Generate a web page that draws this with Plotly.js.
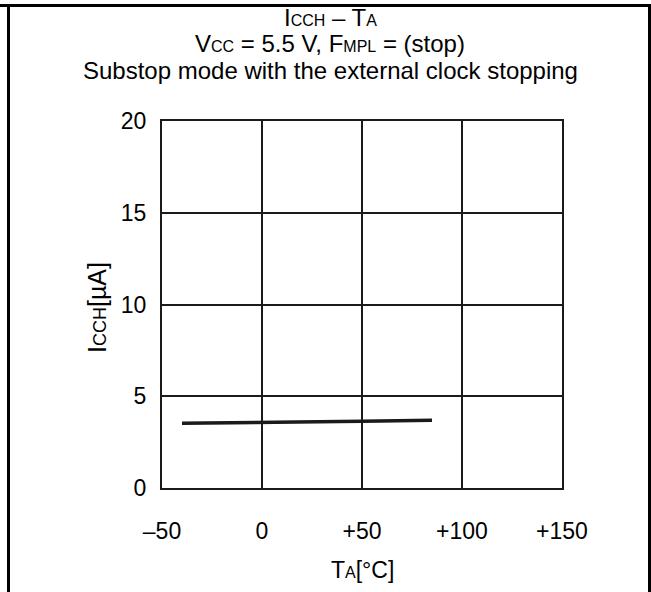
<!DOCTYPE html>
<html>
<head>
<meta charset="utf-8">
<script src="https://cdn.plot.ly/plotly-3.0.1.min.js"></script>
<style>
html,body{margin:0;padding:0;background:#fff;}
#wrap{position:relative;width:651px;height:592px;overflow:hidden;}
#chart{position:absolute;left:0;top:0;width:651px;height:592px;}
.ln{position:absolute;background:#000;z-index:5;}
</style>
</head>
<body>
<div id="wrap">
<div id="chart"></div>
<div class="ln" style="left:0;top:4px;width:651px;height:3px;"></div>
<div class="ln" style="left:7px;top:4px;width:3px;height:588px;"></div>
<div class="ln" style="left:648px;top:4px;width:3px;height:588px;"></div>
</div>
<script>
// Data
const tempC = [-40, 0, 50, 85];
const iccH = [3.53, 3.6, 3.64, 3.69];
const xTickVals = [-50, 0, 50, 100, 150];
const xTickText = ['\u201350', '0', '+50', '+100', '+150'];
const yTickVals = [0, 5, 10, 15, 20];
const yTickText = ['0', '5', '10', '15', '20'];

const W = 651, H = 592;
const M = {l: 162, r: 89, t: 121, b: 104};
const plotH = H - M.t - M.b;
const plotW = W - M.l - M.r;
function py(pix) { return (H - M.b - pix) / plotH; }
function px(pix) { return (pix - M.l) / plotW; }

const FONT = '"Liberation Sans", Arial, sans-serif';
const fs = 24;
const tfs = 23;
const sub = (s, n) => '<span style="font-size:' + (n || 16) + 'px">' + s + '</span>';

const titleLines = [
  {t: 'I' + sub('CCH') + ' \u2013 T' + sub('A'), y: 18},
  {t: 'V' + sub('CC') + ' = 5.5 V, F' + sub('MPL') + ' = (stop)', y: 44},
  {t: 'Substop mode with the external clock stopping', y: 70}
];

const annotations = titleLines.map(l => ({
  text: l.t, xref: 'paper', yref: 'paper', x: px(330), y: py(l.y),
  xanchor: 'center', yanchor: 'middle', showarrow: false,
  font: {family: FONT, size: fs, color: '#000'}
}));
annotations.push({
  text: 'T' + sub('A') + '[\u00b0C]', xref: 'paper', yref: 'paper',
  x: 0.5, y: py(570), xanchor: 'center', yanchor: 'middle', showarrow: false,
  font: {family: FONT, size: tfs, color: '#000'}
});
annotations.push({
  text: 'I' + sub('CCH', 18) + '[\u00b5A]', xref: 'paper', yref: 'paper',
  x: px(97), y: py(308), xanchor: 'center', yanchor: 'middle', showarrow: false,
  textangle: -90,
  font: {family: FONT, size: 25, color: '#000'}
});

const trace = {
  x: tempC, y: iccH, type: 'scatter', mode: 'lines',
  line: {color: '#1a1a1a', width: 3.5},
  hoverinfo: 'skip'
};

const layout = {
  width: W, height: H,
  margin: M,
  paper_bgcolor: '#fff', plot_bgcolor: '#fff',
  showlegend: false,
  font: {family: FONT, size: tfs, color: '#000'},
  xaxis: {
    range: [-50, 150], tickvals: xTickVals, ticktext: xTickText,
    showgrid: true, gridcolor: '#1a1a1a', gridwidth: 2,
    zeroline: false, showline: true, linecolor: '#1a1a1a', linewidth: 2, mirror: true,
    ticks: '', ticklabelstandoff: 21,
    tickfont: {family: FONT, size: tfs, color: '#000'}
  },
  yaxis: {
    range: [0, 20], tickvals: yTickVals, ticktext: yTickText,
    showgrid: true, gridcolor: '#1a1a1a', gridwidth: 2,
    zeroline: false, showline: true, linecolor: '#1a1a1a', linewidth: 2, mirror: true,
    ticks: '', ticklabelstandoff: 9,
    tickfont: {family: FONT, size: tfs, color: '#000'}
  },
  annotations: annotations
};

Plotly.newPlot('chart', [trace], layout, {staticPlot: true, displayModeBar: false});
</script>
</body>
</html>
